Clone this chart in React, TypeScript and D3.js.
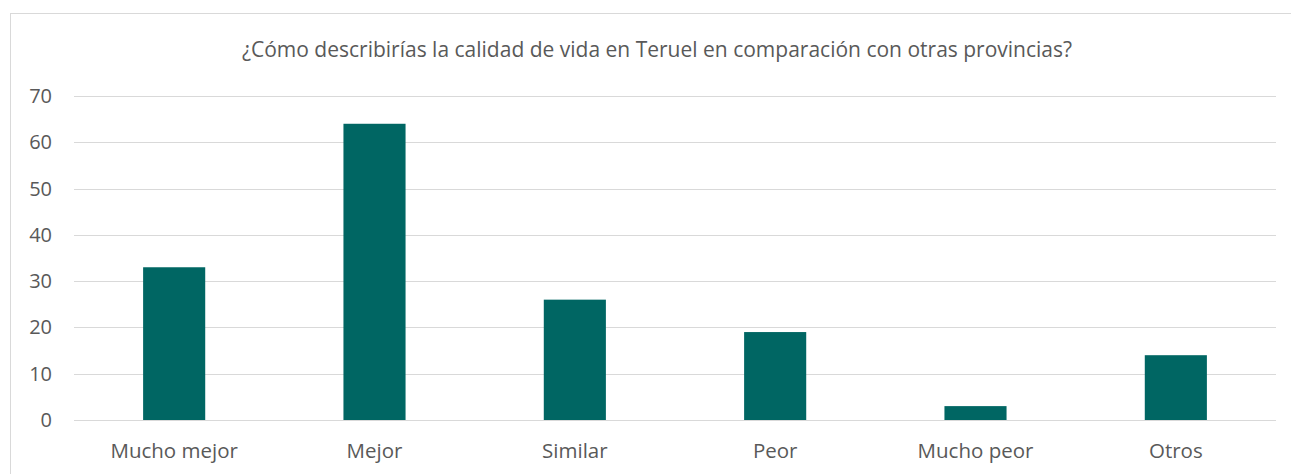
import React, { useEffect, useRef } from 'react';
import * as d3 from 'd3';

// data
const categories = ['Mucho mejor', 'Mejor', 'Similar', 'Peor', 'Mucho peor', 'Otros'];
const values = [33, 64, 26, 19, 3, 14];
const yTicks = [0, 10, 20, 30, 40, 50, 60, 70];
const title = '¿Cómo describirías la calidad de vida en Teruel en comparación con otras provincias?';

const WIDTH = 1291;
const HEIGHT = 474;
const FONT = '"Open Sans", "Noto Sans", sans-serif';

function BarChart() {
  const svgRef = useRef<SVGSVGElement | null>(null);

  useEffect(() => {
    const svg = d3.select(svgRef.current);
    svg.selectAll('*').remove();

    const left = 74;
    const right = 1276;
    const top = 96;
    const bottom = 420;

    // chart frame (runs off the right and bottom of the picture)
    svg
      .append('rect')
      .attr('x', 10.5)
      .attr('y', 13.5)
      .attr('width', 1300)
      .attr('height', 500)
      .attr('fill', '#fff')
      .attr('stroke', '#d9d9d9')
      .attr('stroke-width', 1);

    var x = d3.scaleBand().domain(categories).range([left, right]).paddingInner(0.69).paddingOuter(0.345);
    var y = d3.scaleLinear().domain([0, 70]).range([bottom, top]);

    // gridlines
    svg
      .append('g')
      .selectAll('line')
      .data(yTicks)
      .enter()
      .append('line')
      .attr('x1', left)
      .attr('x2', right)
      .attr('y1', (d) => Math.round(y(d)) + 0.5)
      .attr('y2', (d) => Math.round(y(d)) + 0.5)
      .attr('stroke', '#d9d9d9')
      .attr('stroke-width', 1);

    // y tick labels
    svg
      .append('g')
      .selectAll('text')
      .data(yTicks)
      .enter()
      .append('text')
      .attr('x', 52)
      .attr('y', (d) => y(d))
      .attr('dy', '0.35em')
      .attr('text-anchor', 'end')
      .style('font-family', FONT)
      .style('font-size', '20px')
      .style('fill', '#595959')
      .text((d) => d);

    // bars
    svg
      .append('g')
      .selectAll('rect')
      .data(values)
      .enter()
      .append('rect')
      .attr('x', (d, i) => x(categories[i]))
      .attr('y', (d) => y(d))
      .attr('width', x.bandwidth())
      .attr('height', (d) => bottom - y(d))
      .style('fill', '#006663');

    // category labels
    svg
      .append('g')
      .selectAll('text')
      .data(categories)
      .enter()
      .append('text')
      .attr('x', (d) => x(d) + x.bandwidth() / 2)
      .attr('y', 458)
      .attr('text-anchor', 'middle')
      .style('font-family', FONT)
      .style('font-size', '20.5px')
      .style('fill', '#595959')
      .text((d) => d);

    // title
    svg
      .append('text')
      .attr('x', 657)
      .attr('y', 57)
      .attr('text-anchor', 'middle')
      .style('font-family', FONT)
      .style('font-size', '21px')
      .style('fill', '#595959')
      .text(title);
  }, []);

  return <svg ref={svgRef} width={WIDTH} height={HEIGHT} style={{ display: 'block' }}></svg>;
}

export default function App() {
  return (
    <div style={{ position: 'absolute', left: 0, top: 0, width: WIDTH, height: HEIGHT, background: '#fff' }}>
      <BarChart />
    </div>
  );
}
